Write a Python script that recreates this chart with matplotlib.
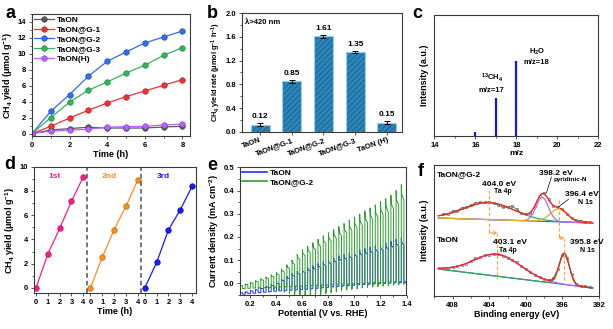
import numpy as np
import matplotlib
matplotlib.use('Agg')
import matplotlib.pyplot as plt
from matplotlib.ticker import MultipleLocator, NullLocator

plt.rcParams['font.family'] = ['Liberation Sans', 'DejaVu Sans']
plt.rcParams['font.weight'] = 'bold'
plt.rcParams['axes.labelweight'] = 'bold'
plt.rcParams['mathtext.fontset'] = 'custom'
plt.rcParams['mathtext.rm'] = 'Liberation Sans:bold'
plt.rcParams['mathtext.it'] = 'Liberation Sans:bold'
plt.rcParams['mathtext.bf'] = 'Liberation Sans:bold'
plt.rcParams['mathtext.default'] = 'rm'
plt.rcParams['hatch.linewidth'] = 0.6

# ---- (a) CH4 yield vs irradiation time ----
time_a = [0, 1, 2, 3, 4, 5, 6, 7, 8]
yield_taon = [0, 0.45, 0.63, 0.8, 0.7, 0.7, 0.7, 0.83, 0.92]
yield_g1 = [0, 0.92, 1.96, 2.93, 3.84, 4.64, 5.35, 6.06, 6.77]
yield_g2 = [0, 2.8, 4.9, 7.2, 9.07, 10.24, 11.37, 12.12, 12.87]
yield_g3 = [0, 2.0, 3.97, 5.43, 6.48, 7.6, 8.57, 9.82, 10.78]
yield_h = [0, 0.3, 0.42, 0.55, 0.8, 0.88, 0.92, 1.08, 1.2]
names_a = ['TaON', 'TaON@G-1', 'TaON@G-2', 'TaON@G-3', 'TaON(H)']

# ---- (b) CH4 yield rate under visible light ----
samples_b = ['TaON', 'TaON@G-1', 'TaON@G-2', 'TaON@G-3', 'TaON (H)']
rate_b = [0.12, 0.85, 1.61, 1.35, 0.15]
err_b = [0.03, 0.02, 0.02, 0.015, 0.025]

# ---- (c) mass spectrum of the isotope run ----
mz_c = [16, 17, 18]
signal_c = [0.03, 0.31, 0.62]

# ---- (d) cycling runs ----
time_d = [0, 1, 2, 3, 4]
run1 = [0, 2.8, 4.9, 7.15, 9.17]
run2 = [0, 2.52, 4.79, 6.73, 8.89]
run3 = [0, 2.1, 4.79, 6.45, 8.39]
run_names = ['1st', '2nd', '3rd']

# ---- (e) chopped-light LSV: one value per light pulse (0.04 V period from 0.12 V) ----
e_start, e_period = 0.12, 0.04
taon_on = [-0.040, -0.036, -0.031, -0.026, -0.020, -0.013, -0.005, 0.005,
           0.018, 0.030, 0.042, 0.052, 0.060, 0.068, 0.076, 0.085,
           0.094, 0.102, 0.110, 0.118, 0.124, 0.130, 0.137, 0.144,
           0.150, 0.156, 0.162, 0.168, 0.175, 0.182, 0.190, 0.196]
taon_off = [-0.046, -0.044, -0.042, -0.040, -0.038, -0.036, -0.034, -0.032,
            -0.030, -0.029, -0.028, -0.026, -0.025, -0.023, -0.021, -0.019,
            -0.017, -0.015, -0.013, -0.011, -0.009, -0.008, -0.006, -0.005,
            -0.004, -0.002, -0.001, 0.000, 0.001, 0.002, 0.003, 0.004]
g2_on = [-0.008, -0.002, 0.005, 0.012, 0.020, 0.028, 0.037, 0.048,
         0.062, 0.080, 0.100, 0.125, 0.145, 0.160, 0.175, 0.190,
         0.205, 0.218, 0.232, 0.245, 0.258, 0.272, 0.285, 0.298,
         0.312, 0.325, 0.338, 0.352, 0.365, 0.380, 0.400, 0.425]
g2_off = [-0.022, -0.021, -0.020, -0.019, -0.018, -0.017, -0.016, -0.015,
          -0.014, -0.013, -0.012, -0.011, -0.010, -0.009, -0.008, -0.007,
          -0.006, -0.005, -0.004, -0.003, -0.002, -0.001, 0.000, 0.001,
          0.002, 0.003, 0.004, 0.005, 0.006, 0.007, 0.008, 0.009]
g2_dip = [-0.022, -0.021, -0.021, -0.022, -0.024, -0.026, -0.029, -0.033,
          -0.038, -0.043, -0.048, -0.052, -0.055, -0.055, -0.052, -0.048,
          -0.044, -0.040, -0.036, -0.032, -0.029, -0.026, -0.023, -0.020,
          -0.018, -0.016, -0.014, -0.012, -0.010, -0.008, -0.006, -0.004]

# ---- (f) N 1s / Ta 4p XPS fits: centre (eV), height, FWHM ----
g2_base = [78, 73]
g2_centers = [404.0, 398.2, 396.4]
g2_heights = [17, 24, 13]
g2_fwhm = [6.5, 1.6, 2.2]
taon_base = [27, 8]
taon_centers = [403.1, 395.8]
taon_heights = [22, 31]
taon_fwhm = [6.0, 1.3]
raw_energy = [409.0, 408.5, 408.0, 407.5, 407.0, 406.5, 406.0, 405.5, 405.0,
              404.5, 404.0, 403.5, 403.0, 402.5, 402.0, 401.5, 401.0, 400.5,
              400.0, 399.5, 399.0, 398.5, 398.0, 397.5, 397.0, 396.5, 396.0,
              395.5, 395.0, 394.5, 394.0, 393.5, 393.0]
g2_resid = [1, 0, 1.5, 0.5, 1.5, 0.5, 1, 1.5, 1, 0.5, 1, 0, -1, -2, 0, 3, 2,
            0, 0, -0.5, 0, 0.5, 1, 0.5, -0.5, 0, 0.5, 0, 0, 0.5, 1.5, 1, 1]
taon_resid = [0.5, 0, 0.5, 0, 0.5, -0.5, 0.5, 1, 0, 0.5, 0, 0.5, 0, 0, -0.5,
              0, 0.5, 0, 0, 0, 0, 0, 0, 0, 0.5, 0, -0.5, 0, 0.5, 0, 0.5, 1, 0.5]

W, H = 613, 329
fig = plt.figure(figsize=(W / 100, H / 100), dpi=100)


def box(l, t, r, b):
    return fig.add_axes([l / W, 1 - b / H, (r - l) / W, (b - t) / H])


def style(ax):
    for s in ax.spines.values():
        s.set_linewidth(0.8)
        s.set_color('#3a3a3a')
    ax.tick_params(which='both', direction='out', labelsize=5.5, width=0.6,
                   color='#3a3a3a', pad=1.5)
    ax.tick_params(which='major', length=2.5)
    ax.tick_params(which='minor', length=1.5)


def letter(x, y, s):
    fig.text(x / W, 1 - y / H, s, fontsize=13, fontweight='bold', va='baseline')


# (a)
ax = box(32, 14, 190, 136)
style(ax)
colors_a = ['#5a5a5a', '#f03232', '#2d6ff0', '#32b45a', '#b464ff']
edges_a = ['#303030', '#a01818', '#1a40a0', '#1a7a38', '#7a3ab0']
for ys, c, ec, n in zip([yield_taon, yield_g1, yield_g2, yield_g3, yield_h],
                        colors_a, edges_a, names_a):
    ax.plot(time_a, ys, '-o', color=c, lw=0.9, ms=4, mfc=c, mec=ec, mew=0.4, label=n)
ax.set_xlim(0, 8.4)
ax.set_ylim(-0.3, 15)
ax.xaxis.set_major_locator(MultipleLocator(2))
ax.xaxis.set_minor_locator(MultipleLocator(1))
ax.yaxis.set_major_locator(MultipleLocator(2))
ax.yaxis.set_minor_locator(MultipleLocator(1))
ax.set_xlabel('Time (h)', fontsize=6.5, labelpad=1)
ax.set_ylabel('CH$_4$ yield (μmol g$^{-1}$)', fontsize=6.5, labelpad=2)
ax.legend(loc='upper left', fontsize=6, frameon=False, handlelength=2.4,
          labelspacing=0.25, borderaxespad=0.1, handletextpad=0.4, borderpad=0.1)
letter(5, 18, 'a')

# (b)
ax = box(241.7, 13.3, 401.7, 131.7)
style(ax)
xb = np.arange(len(samples_b))
ax.bar(xb, rate_b, width=0.6, color='#2b86b9', edgecolor='#1b5d8a', hatch='//////',
       linewidth=0)
ax.bar(xb, rate_b, width=0.6, fill=False, edgecolor='#8fd0f5', linewidth=0.8)
ax.errorbar(xb, rate_b, yerr=err_b, fmt='none', ecolor='black', elinewidth=0.7,
            capsize=2, capthick=0.7)
for x, v, e in zip(xb, rate_b, err_b):
    ax.text(x, v + e + 0.05, f'{v:.2f}', ha='center', va='bottom', fontsize=6)
ax.set_xlim(-0.58, 4.47)
ax.set_ylim(0, 2.0)
ax.yaxis.set_major_locator(MultipleLocator(0.4))
ax.yaxis.set_minor_locator(MultipleLocator(0.2))
ax.set_xticks(xb)
ax.set_xticklabels(samples_b, rotation=20, ha='right', rotation_mode='anchor')
ax.tick_params(axis='x', pad=1)
ax.text(0.02, 0.95, 'λ>420 nm', transform=ax.transAxes, fontsize=5.5, va='top')
ax.set_ylabel('CH$_4$ yield rate (μmol g$^{-1}$ h$^{-1}$)', fontsize=5.3, labelpad=2)
letter(207, 18, 'b')

# (c)
ax = box(434.3, 15, 598.3, 136)
style(ax)
ax.vlines(mz_c, 0, signal_c, color='#1414ff', lw=1.6)
ax.set_xlim(14, 22)
ax.set_ylim(0, 1)
ax.xaxis.set_major_locator(MultipleLocator(2))
ax.xaxis.set_minor_locator(MultipleLocator(1))
ax.yaxis.set_major_locator(NullLocator())
ax.set_xlabel('m/z', fontsize=6, labelpad=1)
ax.set_ylabel('Intensity (a.u.)', fontsize=6.5, labelpad=4)
ax.text(16.8, 0.44, '$^{13}$CH$_4$\nm/z=17', ha='center', va='center', fontsize=5.5,
        linespacing=1.6)
ax.text(19.0, 0.66, 'H$_2$O\nm/z=18', ha='center', va='center', fontsize=5.5,
        linespacing=1.4)
letter(412, 18, 'c')

# (d)
ax = box(34, 166.7, 195.7, 293.3)
style(ax)
shift = 4.6
colors_d = ['#ff1a8c', '#ff8c1a', '#1a1aff']
edges_d = ['#b0005a', '#b05500', '#0000a0']
ticks_d = []
for k, (ys, c, ec, n) in enumerate(zip([run1, run2, run3], colors_d, edges_d, run_names)):
    xs = [t + k * shift for t in time_d]
    ticks_d += xs
    ax.plot(xs, ys, '-o', color=c, lw=0.9, ms=4, mfc=c, mec=ec, mew=0.4)
    ax.text(1.6 + k * shift, 9.2, n, color=c, fontsize=6, ha='center', va='center')
for k in (1, 2):
    ax.axvline(k * shift - 0.3, color='#505050', lw=1.1, ls=(0, (3, 2)))
ax.set_xticks(ticks_d)
ax.set_xticklabels([str(t) for t in time_d] * 3)
ax.set_xlim(-0.17, 13.5)
ax.set_ylim(-0.45, 10)
ax.yaxis.set_major_locator(MultipleLocator(2))
ax.yaxis.set_minor_locator(MultipleLocator(1))
ax.set_xlabel('Time (h)', fontsize=6.5, labelpad=1)
ax.set_ylabel('CH$_4$ yield (μmol g$^{-1}$)', fontsize=6.5, labelpad=2)
letter(4, 169, 'd')

# (e)


def chopped(on, off, dip):
    xs, ys = [], []
    for k, (p, d, u) in enumerate(zip(on, off, dip)):
        x0 = e_start + k * e_period
        h = e_period / 2
        xs += [x0, x0, x0 + 0.15 * h, x0 + h, x0 + h, x0 + 1.3 * h, x0 + e_period]
        ys += [d, p, d + 0.9 * (p - d), d + 0.84 * (p - d), u, d, d]
    return xs, ys


ax = box(240, 167.3, 406.5, 295)
style(ax)
xs, ys = chopped(taon_on, taon_off, taon_off)
ax.plot(xs, ys, color='#2030ff', lw=0.7, label='TaON')
xs, ys = chopped(g2_on, g2_off, g2_dip)
ax.plot(xs, ys, color='#2ca02c', lw=0.7, label='TaON@G-2')
ax.set_xlim(0.12, 1.4)
ax.set_ylim(-0.05, 0.5)
ax.xaxis.set_major_locator(MultipleLocator(0.2))
ax.xaxis.set_minor_locator(MultipleLocator(0.1))
ax.yaxis.set_major_locator(MultipleLocator(0.1))
ax.yaxis.set_minor_locator(MultipleLocator(0.05))
ax.set_xlabel('Potential (V vs. RHE)', fontsize=6.5, labelpad=1)
ax.set_ylabel('Current density (mA cm$^{-2}$)', fontsize=6.5, labelpad=2)
leg = ax.legend(loc='upper left', fontsize=6, frameon=False, handlelength=3.0,
                labelspacing=0.2, borderaxespad=0.1, handletextpad=0.4, borderpad=0.1)
for ln in leg.get_lines():
    ln.set_linewidth(1.2)
letter(207, 170, 'e')

# (f)


def gauss(E, c, h, w):
    return h * np.exp(-4 * np.log(2) * ((E - c) / w) ** 2)


ax = box(434.3, 165, 599, 296)
style(ax)
E = np.linspace(409.56, 392.7, 500)
Er = np.array(raw_energy)
span = E[0] - E[-1]


def baseline(end, x):
    return end[0] + (end[1] - end[0]) * (E[0] - x) / span


# upper spectrum: TaON@G-2
comps = [gauss(E, c, h, w) for c, h, w in zip(g2_centers, g2_heights, g2_fwhm)]
raw = baseline(g2_base, Er) + sum(gauss(Er, c, h, w) for c, h, w in
                                  zip(g2_centers, g2_heights, g2_fwhm)) + np.array(g2_resid)
ax.plot(Er, raw, '-o', color='#707070', lw=0.6, ms=1.8, mfc='none', mec='#505050', mew=0.4)
b = baseline(g2_base, E)
ax.plot(E, b, color='#3060ff', lw=0.8)
for comp, c in zip(comps, ['#2eaa4a', '#b46ef0', '#e0b020']):
    ax.plot(E, b + comp, color=c, lw=0.9)
ax.plot(E, b + sum(comps), color='#ff2020', lw=0.9)

# lower spectrum: TaON
comps = [gauss(E, c, h, w) for c, h, w in zip(taon_centers, taon_heights, taon_fwhm)]
raw = baseline(taon_base, Er) + sum(gauss(Er, c, h, w) for c, h, w in
                                    zip(taon_centers, taon_heights, taon_fwhm)) + np.array(taon_resid)
ax.plot(Er, raw, '-o', color='#707070', lw=0.6, ms=1.8, mfc='none', mec='#505050', mew=0.4)
b = baseline(taon_base, E)
ax.plot(E, b, color='#3060ff', lw=0.8)
for comp, c in zip(comps, ['#b46ef0', '#2eaa4a']):
    ax.plot(E, b + comp, color=c, lw=0.9)
ax.plot(E, b + sum(comps), color='#ff2020', lw=0.9)

# peak shift markers
orange = '#ffa040'
ax.plot([g2_centers[0]] * 2, [106, 63], color=orange, lw=0.8, ls=(0, (3, 2)))
ax.plot([taon_centers[0]] * 2, [63, 17], color=orange, lw=0.8, ls=(0, (3, 2)))
ax.plot([g2_centers[2]] * 2, [96, 58], color=orange, lw=0.8, ls=(0, (3, 2)))
ax.plot([taon_centers[1]] * 2, [58, 15], color=orange, lw=0.8, ls=(0, (3, 2)))
ax.annotate('', xy=(taon_centers[0], 63), xytext=(g2_centers[0], 63),
            arrowprops=dict(arrowstyle='->', color=orange, lw=0.8, shrinkA=0, shrinkB=0,
                            mutation_scale=5))
ax.annotate('', xy=(taon_centers[1], 58), xytext=(g2_centers[2], 58),
            arrowprops=dict(arrowstyle='->', color=orange, lw=0.8, shrinkA=0, shrinkB=0,
                            mutation_scale=5))
ax.annotate('', xy=(397.75, 103), xytext=(397.2, 119),
            arrowprops=dict(arrowstyle='-', color='black', lw=0.5, shrinkA=0, shrinkB=0))
ax.annotate('', xy=(396.45, 89), xytext=(395.3, 97),
            arrowprops=dict(arrowstyle='-', color='black', lw=0.5, shrinkA=0, shrinkB=0))

ax.text(0.016, 0.926, 'TaON@G-2', transform=ax.transAxes, fontsize=6, va='center')
ax.text(0.015, 0.427, 'TaON', transform=ax.transAxes, fontsize=6, va='center')
ax.text(402.9, 112, f'{g2_centers[0]:.1f} eV', fontsize=6, ha='center', va='center')
ax.text(402.5, 104.3, 'Ta 4p', fontsize=5, ha='center', va='center')
ax.text(396.7, 122.7, f'{g2_centers[1]:.1f} eV', fontsize=6, ha='center', va='center')
ax.text(395.1, 116, 'pyridinic-N', fontsize=4.6, ha='center', va='center')
ax.text(393.9, 101, f'{g2_centers[2]:.1f} eV', fontsize=6, ha='center', va='center')
ax.text(393.45, 93.7, 'N 1s', fontsize=5, ha='center', va='center')
ax.text(401.7, 53.3, f'{taon_centers[0]:.1f} eV', fontsize=6, ha='center', va='center')
ax.text(402.0, 45.3, 'Ta 4p', fontsize=5, ha='center', va='center')
ax.text(393.3, 53.3, f'{taon_centers[1]:.1f} eV', fontsize=6, ha='center', va='center')
ax.text(393.3, 45.3, 'N 1s', fontsize=5, ha='center', va='center')

ax.set_xlim(410, 392)
ax.set_ylim(0, 131)
ax.xaxis.set_major_locator(MultipleLocator(4))
ax.xaxis.set_minor_locator(MultipleLocator(2))
ax.yaxis.set_major_locator(NullLocator())
ax.set_xlabel('Binding energy (eV)', fontsize=6.5, labelpad=1)
ax.set_ylabel('Intensity (a.u.)', fontsize=6.5, labelpad=4)
letter(418, 176, 'f')

fig.savefig('out.png', dpi=100)
